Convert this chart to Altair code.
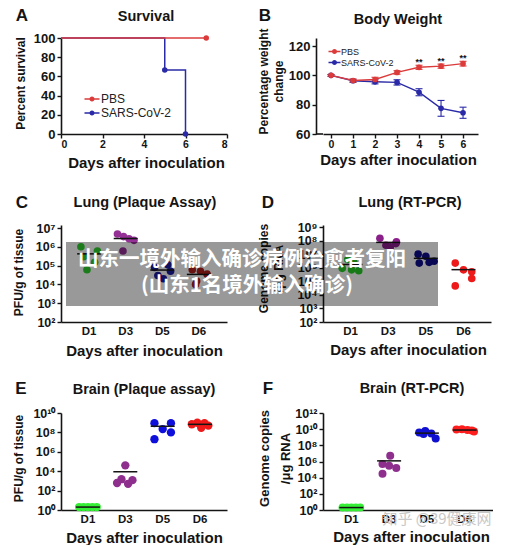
import altair as alt
import pandas as pd

FONT = "Liberation Sans"
CJK = "Noto Sans CJK SC"
INK = "#141414"

# ---------------- data ----------------
# A: survival (%)
surv_pbs_day = [0, 7]
surv_pbs_pct = [100, 100]
surv_cov_day = [0, 5, 6]
surv_cov_pct = [100, 66.7, 0]

# B: body weight (% of day 0), mean and SD
bw_day = [0, 1, 2, 3, 4, 5, 6]
bw_pbs = [100, 96.5, 97.2, 102, 105.5, 106.3, 108]
bw_pbs_sd = [0.6, 1.0, 1.5, 1.2, 1.4, 1.4, 1.6]
bw_cov = [100, 96.3, 95.6, 95.2, 88.5, 77.5, 74.5]
bw_cov_sd = [0.6, 1.0, 1.4, 1.8, 2.4, 5.4, 3.8]
sig_day = [4, 5, 6]
sig_mark = ["**", "**", "**"]

groups = ["PBS", "SARS-CoV-2"]
group_colors = ["#dc3b3b", "#2a2aa8"]

days = ["D1", "D3", "D5", "D6"]

# C: lung plaque assay (PFU/g of tissue); slot = order of the dot inside its cluster
lung_pfu = [1.0e6, 6e5, 3e5, 1.5e5, 6e4,
            4.8e6, 3.5e6, 2.7e6, 2.2e6, 6e5,
            1.1e5, 8e4, 5e4, 3e4, 2e4,
            6e4, 5e4, 3.5e4, 1.5e4, 1e4]
lung_pfu_slot = [-1.5, 1.5, -1.0, 1.0, -0.4,
                 -1.5, -0.4, 0.6, 1.5, -0.5,
                 1.0, -1.4, 1.5, -0.8, 0.2,
                 -1.2, 0.3, 1.5, -0.4, -0.6]

# D: lung RT-PCR (genome copies / ug RNA)
lung_rna = [4e6, 2.5e6, 9e5, 7e5, 6e5,
            1.5e8, 8e7, 6e7, 4.5e7, 3.5e7,
            1e7, 7e6, 3e6, 2.5e6, 2.2e6,
            2.2e6, 7e5, 5e5, 1.6e5, 4.6e4]
lung_rna_slot = [-0.5, 0.6, -1.5, 0.2, 1.5,
                 -1.5, 1.5, 1.4, -0.4, 0.4,
                 -1.4, 0.0, 1.5, 0.6, -1.2,
                 -1.5, 0.0, 1.5, 1.5, -1.5]

# E: brain plaque assay
brain_pfu = [2, 2, 2, 2, 2,
             4e4, 1.5e3, 1.2e3, 6e2, 5e2,
             9e8, 9e8, 2.2e8, 1e8, 2e7,
             1e9, 9e8, 7e8, 5e8, 3e8]
brain_pfu_slot = [-1.6, -0.8, 0.0, 0.8, 1.6,
                  0.0, -0.7, 1.3, -1.5, 0.5,
                  -1.5, 1.5, 0.0, 1.5, -1.5,
                  -0.5, 0.8, -1.5, 1.5, 0.2]

# F: brain RT-PCR
brain_rna = [2, 2, 2, 2, 2,
             5e6, 5e5, 3e5, 1.6e5, 3e4,
             6e9, 4e9, 3e9, 2.5e9, 7e8,
             1e10, 9e9, 8e9, 7e9, 5e9]
brain_rna_slot = [-1.6, -0.8, 0.0, 0.8, 1.6,
                  0.2, -1.2, 0.0, 1.3, -1.2,
                  -0.3, -1.4, 0.8, -0.6, 1.6,
                  -0.5, -1.5, 0.5, 1.3, 1.7]

colors_c = ["#2fcf2f", "#943096", "#1c1ca0", "#b01e1e"]
colors_d = ["#27cc27", "#8a1f8a", "#0c0c8a", "#ee1a1a"]
colors_e = ["#35ee35", "#8e2f8e", "#0f0fdc", "#f01818"]
colors_f = ["#35ee35", "#8e2f8e", "#0f0fd0", "#ff1e1e"]

banner_lines = ["山东一境外输入确诊病例治愈者复阳", "(山东1名境外输入确诊)"]
watermark = "知乎 @39健康网"

# ---------------- helpers ----------------
SUP = ("'10' + ['⁰','¹','²','³','⁴','⁵','⁶','⁷','⁸','⁹','¹⁰','¹¹','¹²']"
       "[round(log(datum.value)/LN10)]")


def leg_symbol(half):
    return (f"M-{half},-0.25H{half}V0.25H-{half}Z "
            "M-0.85,0A0.85,0.85 0 1 1 0.85,0A0.85,0.85 0 1 1 -0.85,0Z")


def one_row():
    return pd.DataFrame({"t": [""]})


def label(text, x, y, size, font=FONT, weight="bold", color=INK, **kw):
    return alt.Chart(pd.DataFrame({"t": [text]})).mark_text(
        font=font, fontSize=size, fontWeight=weight, color=color,
        align="center", baseline="middle", **kw
    ).encode(text="t:N", x=alt.value(x), y=alt.value(y))


def strip_panel(vals, slots, colors, ydom, yvals, width, height, pad_outer,
                ytitle, ytx, yty, xtx, xty, title, tpos, letter, lpos,
                dot=60, ytitle_lh=15, ytitle_size=12, extra=()):
    df = pd.DataFrame({
        "day": [d for d in days for _ in range(5)],
        "value": vals,
        "slot": slots,
    })
    half_band = width / (len(days) + 2 * pad_outer) / 2
    xenc = alt.X("day:N", sort=days,
                 scale=alt.Scale(domain=days, paddingInner=0, paddingOuter=pad_outer),
                 axis=alt.Axis(title="Days after inoculation", titleX=xtx, titleY=xty,
                               labelAngle=0, ticks=False, tickSize=0, labelPadding=3,
                               labelFontSize=11.5, titleFontSize=15))
    yenc = alt.Y("value:Q",
                 scale=alt.Scale(type="log", domain=ydom, nice=False),
                 axis=alt.Axis(values=yvals, labelExpr=SUP, title=ytitle,
                               titleX=ytx, titleY=yty, titleFontSize=ytitle_size,
                               titleLineHeight=ytitle_lh, labelFontSize=12.5,
                               labelOverlap=False))
    pts = alt.Chart(df).mark_circle(size=dot, opacity=1).encode(
        x=xenc,
        xOffset=alt.XOffset("slot:Q", scale=alt.Scale(
            domain=[-2, 2], range=[half_band - 11, half_band + 11])),
        y=yenc,
        color=alt.Color("day:N", scale=alt.Scale(domain=days, range=colors), legend=None),
    )
    mean = alt.Chart(df).mark_tick(color=INK, thickness=1.5, size=24, opacity=1).encode(
        x=alt.X("day:N", sort=days), y=alt.Y("mean(value):Q"))
    layers = [pts, mean,
              label(title, tpos[0], tpos[1], 14.5),
              label(letter, lpos[0], lpos[1], 17)]
    layers += list(extra)
    return alt.layer(*layers).properties(width=width, height=height)


# ---------------- A: survival ----------------
surv_df = pd.DataFrame({
    "day": surv_cov_day + surv_pbs_day,
    "pct": surv_cov_pct + surv_pbs_pct,
    "group": ["SARS-CoV-2"] * len(surv_cov_day) + ["PBS"] * len(surv_pbs_day),
})
ax = alt.X("day:Q", scale=alt.Scale(domain=[0, 8], nice=False, zero=False),
           axis=alt.Axis(values=[0, 2, 4, 6, 8], title="Days after inoculation",
                         titleX=85, titleY=28, labelFontSize=10.5, labelPadding=1,
                         titleFontSize=15, labelOverlap=False))
ay = alt.Y("pct:Q", scale=alt.Scale(domain=[0, 100], nice=False),
           axis=alt.Axis(values=[0, 20, 40, 60, 80, 100], title="Percent survival",
                         titleX=-41, titleY=45, titleFontSize=12, labelFontSize=13,
                         labelOverlap=False))
surv_lines = [
    alt.Chart(surv_df).transform_filter(f"datum.group == '{g}'").mark_line(
        interpolate="step-after", strokeWidth=1.5, color=c).encode(x=ax, y=ay)
    for g, c in [("SARS-CoV-2", group_colors[1]), ("PBS", group_colors[0])]
]
surv_pts = alt.Chart(surv_df).transform_filter("datum.day > 0").mark_point(
    filled=True, size=30, opacity=1).encode(
    x=ax, y=ay,
    color=alt.Color("group:N", scale=alt.Scale(domain=groups, range=group_colors),
                    legend=alt.Legend(orient="none", legendX=25, legendY=55, title=None,
                                      symbolType=leg_symbol(2.5), symbolSize=36,
                                      symbolStrokeWidth=0, symbolOpacity=1,
                                      labelFont=FONT, labelFontSize=12, labelColor="#222",
                                      labelFontWeight="normal", labelOffset=3,
                                      rowPadding=2, padding=0)),
)
anchor = alt.Chart(one_row()).mark_rule(strokeOpacity=0, color="white").encode(
    x=alt.value(-61), x2=alt.value(0), y=alt.value(-38))
panel_a = alt.layer(
    anchor, *surv_lines, surv_pts,
    label("Survival", 85, -21, 14.5), label("A", -39, -22, 17),
).properties(width=166, height=96)

# ---------------- B: body weight ----------------
bw_df = pd.DataFrame({
    "day": bw_day + bw_day,
    "pct": bw_cov + bw_pbs,
    "sd": bw_cov_sd + bw_pbs_sd,
    "group": ["SARS-CoV-2"] * 7 + ["PBS"] * 7,
})
sig_df = pd.DataFrame({
    "day": sig_day,
    "pct": [bw_pbs[d] + bw_pbs_sd[d] for d in sig_day],
    "mark": sig_mark,
})
b_xscale = alt.Scale(domain=[-0.364, 6.68], nice=False, zero=False)
b_yscale = alt.Scale(domain=[60, 125.5], nice=False, zero=False)
b_xaxis = alt.Axis(values=list(range(7)), title="Days after inoculation",
                   titleX=75, titleY=25, labelFontSize=10.5, labelPadding=1,
                   titleFontSize=15, labelOverlap=False)
b_yaxis = alt.Axis(values=[60, 80, 100, 120], offset=7,
                   title=["Percentage weight", "change"], titleX=-53, titleY=43,
                   titleFontSize=12, titleLineHeight=15, labelFontSize=13,
                   labelOverlap=False, labelFlush=False)
bx = alt.X("day:Q", scale=b_xscale, axis=b_xaxis)
by = alt.Y("pct:Q", scale=b_yscale, axis=b_yaxis)
bw_layers = []
for g, c in [("SARS-CoV-2", group_colors[1]), ("PBS", group_colors[0])]:
    base = alt.Chart(bw_df).transform_filter(f"datum.group == '{g}'").transform_calculate(
        lo="datum.pct - datum.sd", hi="datum.pct + datum.sd")
    bw_layers.append(base.mark_rule(color=c, strokeWidth=1.1).encode(
        x=bx, y=alt.Y("lo:Q", scale=b_yscale, axis=b_yaxis), y2="hi:Q"))
    bw_layers.append(base.mark_tick(color=c, orient="horizontal", size=7, thickness=1.1,
                                    opacity=1).encode(
        x=bx, y=alt.Y("lo:Q", scale=b_yscale, axis=b_yaxis)))
    bw_layers.append(base.mark_tick(color=c, orient="horizontal", size=7, thickness=1.1,
                                    opacity=1).encode(
        x=bx, y=alt.Y("hi:Q", scale=b_yscale, axis=b_yaxis)))
    bw_layers.append(base.mark_line(color=c, strokeWidth=1.4).encode(x=bx, y=by))
bw_pts = alt.Chart(bw_df).mark_point(filled=True, size=32, opacity=1).encode(
    x=bx, y=by,
    color=alt.Color("group:N", scale=alt.Scale(domain=groups, range=group_colors),
                    legend=alt.Legend(orient="none", legendX=7, legendY=9, title=None,
                                      symbolType=leg_symbol(2), symbolSize=36,
                                      symbolStrokeWidth=0, symbolOpacity=1,
                                      labelFont=FONT, labelFontSize=9, labelColor="#222",
                                      labelFontWeight="normal", labelOffset=2,
                                      rowPadding=1, padding=0)),
)
sig = alt.Chart(sig_df).mark_text(font=FONT, fontSize=9, fontWeight="bold", color=INK,
                                  dy=-3, baseline="middle").encode(x=bx, y=by, text="mark:N")
b_axis_fill = alt.Chart(one_row()).mark_rule(color=INK, strokeWidth=1.6).encode(
    x=alt.value(-7), x2=alt.value(0), y=alt.value(96))
panel_b = alt.layer(
    b_axis_fill, *bw_layers, bw_pts, sig,
    label("Body Weight", 75, -18, 14.5), label("B", -58, -22, 17),
).properties(width=155, height=96)

# ---------------- C - F: strip plots ----------------
panel_c = strip_panel(lung_pfu, lung_pfu_slot, colors_c, [1e2, 10 ** 7.16],
                      [1e2, 1e3, 1e4, 1e5, 1e6, 1e7], 166, 97, 0.27,
                      "PFU/g of tissue", -43, 47, 83, 28,
                      "Lung (Plaque Assay)", (84, -22), "C", (-39, -22), dot=58)

banner = [
    alt.Chart(one_row()).mark_rect(color="black", opacity=0.4).encode(
        x=alt.value(-257), x2=alt.value(115), y=alt.value(17), y2=alt.value(81)),
    label(banner_lines[0], -81, 35, 20.5, font=CJK, color="white"),
    label(banner_lines[1], -76, 61, 20.5, font=CJK, color="white"),
]
panel_d = strip_panel(lung_rna, lung_rna_slot, colors_d, [1e2, 10 ** 9.15],
                      [1e2, 1e3, 1e4, 1e5, 1e6, 1e7, 1e8, 1e9], 168, 97, 0.23,
                      ["Genome copies", "/μg RNA"], -60, 43, 85, 27,
                      "Lung (RT-PCR)", (87, -22), "D", (-55, -22), dot=58,
                      extra=banner)

panel_e = strip_panel(brain_pfu, brain_pfu_slot, colors_e, [1, 1e10],
                      [1, 1e2, 1e4, 1e6, 1e8, 1e10], 166, 97, 0.22,
                      "PFU/g of tissue", -43, 45, 83, 27,
                      "Brain (Plaque assay)", (83, -23), "E", (-40, -24), dot=70)

wm = [label(watermark, 114, 106, 15, font=CJK, weight="normal", color="#c8c8c8")]
panel_f = strip_panel(brain_rna, brain_rna_slot, colors_f, [1, 1e12],
                      [1, 1e2, 1e4, 1e6, 1e8, 1e10, 1e12], 170, 97, 0.25,
                      ["Genome copies", "/μg RNA"], -59, 45, 88, 26,
                      "Brain (RT-PCR)", (89, -24), "F", (-55, -24), dot=64,
                      ytitle_lh=21, ytitle_size=13, extra=wm)

chart = alt.concat(
    panel_a, panel_b, panel_c, panel_d, panel_e, panel_f,
    columns=2, spacing={"row": 91, "column": 96}, bounds="flush",
).resolve_scale(
    color="independent", x="independent", y="independent", xOffset="independent"
).resolve_legend(color="independent").properties(
    padding=0, background="white"
).configure_view(stroke=None).configure_axis(
    labelFont=FONT, titleFont=FONT, labelFontWeight="bold", titleFontWeight="bold",
    labelColor=INK, titleColor=INK, domainColor=INK, tickColor=INK,
    domainWidth=1.6, tickWidth=1.4, tickSize=4, labelPadding=2, grid=False,
    titleAlign="center", titleBaseline="middle",
)

chart.save("out.html", embed_options={"renderer": "svg", "actions": False})
